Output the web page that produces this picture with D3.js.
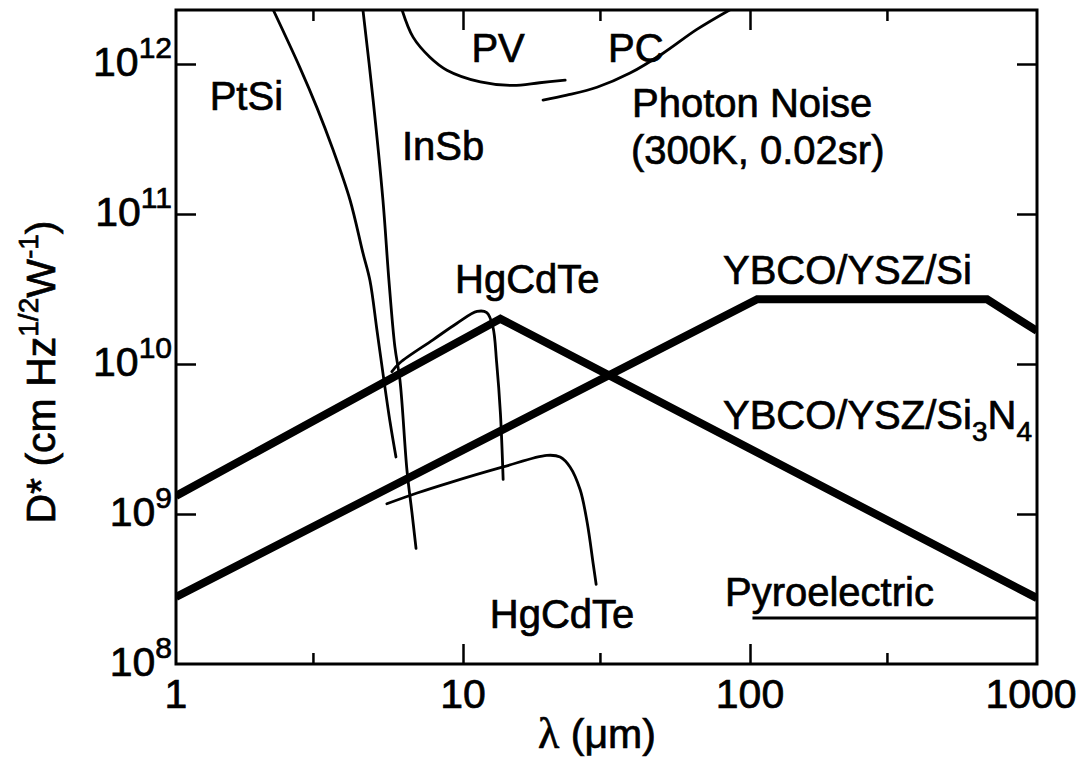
<!DOCTYPE html>
<html>
<head>
<meta charset="utf-8">
<script src="https://cdn.jsdelivr.net/npm/d3@7"></script>
<style>
  body { margin: 0; background: #fff; }
  svg { display: block; }
  text { font-family: "Liberation Sans", Arial, Helvetica, sans-serif; fill: #000; stroke: #000; stroke-width: 0.7px; }
</style>
</head>
<body>
<svg id="chart" width="1079" height="762"></svg>
<script>
// wavelength ticks (um) and D* decades
const lambdaMajor = [1, 10, 100, 1000];
const lambdaMinor = [3, 30, 300];
const dExponents = [8, 9, 10, 11, 12];

// thick lines: [lambda, D*]
const ybcoSi3N4 = [[1, 1.32e9], [13.5, 2.0e10], [1000, 2.75e8]];
const ybcoSi = [[1, 2.8e8], [106, 2.7e10], [670, 2.7e10], [1000, 1.66e10]];
const pyroelectric = [[102, 2.03e8], [1000, 2.03e8]];

// thin detector curves
const ptsi = [[2.18, 2.3e12], [2.70, 9.5e11], [3.10, 5.1e11], [3.52, 2.7e11], [4.04, 1.24e11],
  [4.48, 5.5e10], [4.74, 3.6e10], [5.01, 1.7e10], [5.26, 8.7e9], [5.57, 4.1e9], [5.84, 2.4e9]];
const insb = [[4.48, 2.3e12], [4.86, 5.8e11], [5.26, 1.24e11], [5.52, 3.6e10], [5.79, 1.3e10],
  [6.03, 7.8e9], [6.38, 1.95e9], [6.64, 1.02e9], [6.86, 5.9e8]];
const hgcdteShort = [[5.65, 8.9e9], [6.03, 1.02e10], [7.86, 1.45e10], [9.53, 1.87e10], [11.2, 2.24e10],
  [12.1, 2.2e10], [12.7, 1.78e10], [13.1, 1.02e10], [13.5, 4.7e9], [13.8, 1.7e9]];
const hgcdteLong = [[5.43, 1.17e9], [6.92, 1.38e9], [9.0, 1.62e9], [13.8, 2.06e9], [19.6, 2.46e9],
  [21.8, 2.4e9], [23.6, 2.06e9], [25.6, 1.45e9], [27.1, 8.7e8], [28.4, 4.7e8], [29.1, 3.4e8]];
const photonPV = [[6.13, 2.3e12], [6.70, 1.51e12], [7.67, 1.11e12], [8.79, 9.1e11], [11.5, 7.6e11],
  [14.9, 7.2e11], [18.5, 7.5e11], [22.7, 7.8e11]];
const photonPC = [[19.0, 5.75e11], [23.0, 6.2e11], [29.3, 7.0e11], [38.2, 8.7e11], [49.8, 1.18e12],
  [65.3, 1.7e12], [85.2, 2.3e12]];

// in-plot labels anchored at [lambda, D*] (text start, baseline)
const labels = [
  { text: "PtSi", at: [1.31, 4.9e11] },
  { text: "InSb", at: [6.13, 2.3e11] },
  { text: "PV", at: [10.7, 1.03e12] },
  { text: "PC", at: [32, 1.03e12] },
  { text: "Photon Noise", at: [38.8, 4.44e11] },
  { text: "(300K, 0.02sr)", at: [38.5, 2.15e11] },
  { text: "HgCdTe", at: [9.38, 2.97e10] },
  { text: "YBCO/YSZ/Si", at: [80.5, 3.41e10] },
  { text: "HgCdTe", at: [12.4, 1.74e8] },
  { text: "Pyroelectric", at: [81.8, 2.44e8] }
];

const svg = d3.select("#chart");
const x = d3.scaleLog().domain([1, 1000]).range([176, 1037]);
const y = d3.scaleLog().domain([1e8, Math.pow(10, 12.36)]).range([664, 10]);
const [x0, x1] = x.range();
const [y0, y1] = y.range();

svg.append("clipPath").attr("id", "plot-clip")
  .append("rect").attr("x", x0).attr("y", y1).attr("width", x1 - x0).attr("height", y0 - y1);

const plot = svg.append("g").attr("clip-path", "url(#plot-clip)");
const line = d3.line().x(d => x(d[0])).y(d => y(d[1]));
const smooth = d3.line().x(d => x(d[0])).y(d => y(d[1])).curve(d3.curveCatmullRom.alpha(0.5));

[ptsi, insb, hgcdteShort, hgcdteLong, photonPV, photonPC].forEach(s => {
  plot.append("path").datum(s).attr("d", smooth)
    .attr("fill", "none").attr("stroke", "#000").attr("stroke-width", 2.8)
    .attr("stroke-linecap", "round").attr("stroke-linejoin", "round");
});

plot.append("path").datum(pyroelectric).attr("d", line)
  .attr("fill", "none").attr("stroke", "#000").attr("stroke-width", 3);

[ybcoSi3N4, ybcoSi].forEach(s => {
  plot.append("path").datum(s).attr("d", line)
    .attr("fill", "none").attr("stroke", "#000").attr("stroke-width", 8)
    .attr("stroke-linejoin", "miter");
});

// frame
svg.append("rect").attr("x", x0).attr("y", y1).attr("width", x1 - x0).attr("height", y0 - y1)
  .attr("fill", "none").attr("stroke", "#000").attr("stroke-width", 3);

// inward ticks on all four sides
const innerMajor = lambdaMajor.slice(1, -1);
const decadeTicks = dExponents.slice(1).map(e => Math.pow(10, e));
const tickStyle = g => g.call(g => g.select(".domain").remove())
  .call(g => g.selectAll("line").attr("stroke", "#000").attr("stroke-width", 2.5))
  .call(g => g.selectAll("text").remove());

svg.append("g").attr("transform", `translate(0,${y0})`)
  .call(d3.axisBottom(x).tickValues(innerMajor).tickSize(-20)).call(tickStyle);
svg.append("g").attr("transform", `translate(0,${y0})`)
  .call(d3.axisBottom(x).tickValues(lambdaMinor).tickSize(-11)).call(tickStyle);
svg.append("g").attr("transform", `translate(0,${y1})`)
  .call(d3.axisTop(x).tickValues(innerMajor).tickSize(-20)).call(tickStyle);
svg.append("g").attr("transform", `translate(0,${y1})`)
  .call(d3.axisTop(x).tickValues(lambdaMinor).tickSize(-11)).call(tickStyle);
svg.append("g").attr("transform", `translate(${x0},0)`)
  .call(d3.axisLeft(y).tickValues(decadeTicks).tickSize(-20)).call(tickStyle);
svg.append("g").attr("transform", `translate(${x1},0)`)
  .call(d3.axisRight(y).tickValues(decadeTicks).tickSize(-20)).call(tickStyle);

// x tick labels
svg.append("g").selectAll("text").data(lambdaMajor).join("text")
  .attr("x", d => x(d) - (d === 1000 ? 6 : 0)).attr("y", 708)
  .attr("text-anchor", "middle").attr("font-size", 41)
  .text(d => d);

// y tick labels 10^n
const yl = svg.append("g").selectAll("text").data(dExponents).join("text")
  .attr("x", 172).attr("y", d => y(Math.pow(10, d)) + 12)
  .attr("text-anchor", "end").attr("font-size", 41);
yl.append("tspan").text("10");
yl.append("tspan").attr("font-size", 30).attr("dy", -18).text(d => d);

// axis titles
svg.append("text").attr("x", 597).attr("y", 748).attr("text-anchor", "middle")
  .attr("font-size", 41)
  .call(t => t.append("tspan").attr("font-family", "Liberation Serif, serif").attr("font-size", 44).text("λ"))
  .call(t => t.append("tspan").text(" (μm)"));

const yt = svg.append("text").attr("transform", "translate(55,372) rotate(-90)")
  .attr("text-anchor", "middle").attr("font-size", 41);
yt.append("tspan").text("D* (cm Hz");
yt.append("tspan").attr("font-size", 28).attr("dy", -17).text("1/2");
yt.append("tspan").attr("dy", 17).text("W");
yt.append("tspan").attr("font-size", 28).attr("dy", -17).text("-1");
yt.append("tspan").attr("dy", 17).text(")");

// curve labels
svg.append("g").selectAll("text").data(labels).join("text")
  .attr("x", d => x(d.at[0])).attr("y", d => y(d.at[1]))
  .attr("font-size", 40).text(d => d.text);

// YBCO/YSZ/Si3N4 with subscripts
const sub = svg.append("text").attr("x", x(80.5)).attr("y", y(Math.pow(10, 9.567)))
  .attr("font-size", 40);
sub.append("tspan").text("YBCO/YSZ/Si");
sub.append("tspan").attr("font-size", 28).attr("dy", 12).text("3");
sub.append("tspan").attr("dy", -12).text("N");
sub.append("tspan").attr("font-size", 28).attr("dy", 12).text("4");
</script>
</body>
</html>
